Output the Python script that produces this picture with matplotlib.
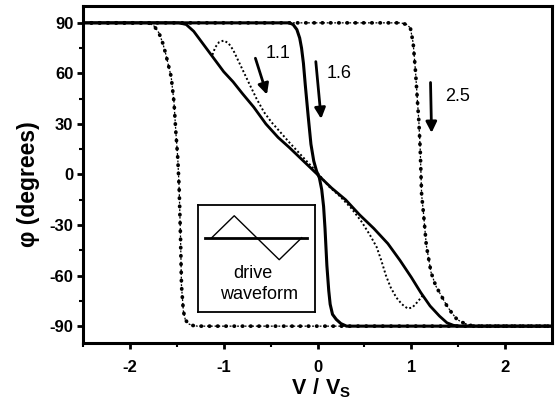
import matplotlib
matplotlib.use("Agg")
import matplotlib.pyplot as plt

plt.rcParams['font.family'] = ['Liberation Sans', 'DejaVu Sans']
plt.rcParams['axes.unicode_minus'] = False
plt.rcParams['mathtext.fontset'] = 'custom'
plt.rcParams['mathtext.rm'] = 'Liberation Sans'
plt.rcParams['mathtext.bf'] = 'Liberation Sans:bold'

# steep solid curve (1.6)
steep_v = [-2.5, -0.30, -0.26, -0.22, -0.19, -0.17, -0.15, -0.13, -0.10, -0.07, -0.04, -0.01,
           0.02, 0.045, 0.065, 0.08, 0.10, 0.12, 0.135, 0.16, 0.20, 0.25, 0.31, 2.5]
steep_phi = [90, 90, 89, 86, 81, 75, 66, 53, 35, 18, 8, 2,
             -2, -9, -19, -32, -54, -69, -77, -83, -86, -88.5, -90, -90]

# gradual solid curve (1.1)
mid_v = [-2.5, -1.48, -1.40, -1.32, -1.24, -1.16, -1.08, -1.00, -0.90, -0.80, -0.68, -0.55,
         -0.42, -0.30, -0.15, 0.0, 0.15, 0.30, 0.45, 0.60, 0.75, 0.88, 1.00, 1.10, 1.20,
         1.30, 1.38, 1.45, 1.52, 2.5]
mid_phi = [90, 90, 89, 85, 79, 73, 67, 61, 55, 48, 40, 30,
           22, 16, 8, 0, -8, -15, -24, -32, -41, -51, -61, -70, -78,
           -84, -88, -89.5, -90, -90]

# dotted curve (1.1)
dot_v = [-1.12, -1.09, -1.05, -1.00, -0.95, -0.90, -0.84, -0.78, -0.72, -0.65, -0.57, -0.49,
         -0.41, -0.30, -0.15, 0.0, 0.12, 0.24, 0.36, 0.47, 0.56, 0.63, 0.68, 0.73, 0.78,
         0.84, 0.90, 0.96, 1.01, 1.06, 1.12]
dot_phi = [71, 75.5, 78.5, 79.5, 78, 74, 67, 60, 53, 45, 37, 31,
           26, 19, 10, 1, -7, -13, -20, -28, -36, -43, -51, -60, -67,
           -73, -77, -79.5, -79, -76, -72]

# dash-dot loop (2.5), two branches
wide_left_v = [-2.5, -1.80, -1.74, -1.69, -1.65, -1.62, -1.59, -1.56, -1.53, -1.51, -1.49,
               -1.475, -1.46, -1.45, -1.43, -1.41, -1.38, -1.34, -1.28, 2.5]
wide_left_phi = [90, 90, 88, 84, 78, 72, 65, 58, 43, 25, 10,
                 -8, -38, -66, -81, -86, -88.5, -89.5, -90, -90]
wide_right_v = [-2.5, 0.89, 0.95, 0.99, 1.02, 1.045, 1.065, 1.08, 1.095, 1.11, 1.13, 1.16,
                1.21, 1.26, 1.32, 1.38, 1.43, 1.48, 1.53, 1.60, 1.66, 2.5]
wide_right_phi = [90, 90, 89, 87, 78, 61, 44, 32, 15, -12, -23, -42,
                  -58, -66, -72, -78, -82, -85.5, -87.5, -89, -90, -90]

# curve labels with arrow start / tip
labels = ['1.1', '1.6', '2.5']
label_pos = [(-0.553, 72), (0.10, 60), (1.36, 46.4)]
arrow_start = [(-0.662, 69), (-0.018, 67), (1.205, 54.6)]
arrow_tip = [(-0.539, 47.4), (0.039, 33), (1.216, 24.7)]

# drive waveform sketch
wave_t = [0, 1, 3, 4]
wave_y = [0, 1, -1, 0]

fig = plt.figure(figsize=(5.56, 4.15), dpi=100)
ax = fig.add_axes([83 / 556, 72 / 415, 469 / 556, 337 / 415])

# dash-dot loop: thin dotted trace with round dots on top
for v, p in [(wide_left_v, wide_left_phi), (wide_right_v, wide_right_phi)]:
    ax.plot(v, p, color='k', lw=0.9, ls=(0, (1.5, 1.5)), zorder=3)
    ax.plot(v, p, color='k', lw=2.7, ls=(0, (0.1, 2.1)),
            dash_capstyle='round', zorder=3)

ax.plot(mid_v, mid_phi, color='k', lw=2.0, zorder=2)
ax.plot(steep_v, steep_phi, color='k', lw=2.2, zorder=2)
ax.plot(dot_v, dot_phi, color='k', lw=1.4, ls=(0, (1, 1.2)), zorder=2)

for lab, pos, a0, a1 in zip(labels, label_pos, arrow_start, arrow_tip):
    ax.text(pos[0], pos[1], lab, fontsize=13, ha='left', va='center')
    ax.annotate('', xy=a1, xytext=a0,
                arrowprops=dict(arrowstyle='-|>', lw=2, color='k',
                                mutation_scale=16, shrinkA=0, shrinkB=0))

ax.set_xlim(-2.5, 2.5)
ax.set_ylim(-100, 100)
ax.set_xticks([-2, -1, 0, 1, 2])
ax.set_xticks([-2.5, -1.5, -0.5, 0.5, 1.5], minor=True)
ax.set_yticks([-90, -60, -30, 0, 30, 60, 90])
ax.set_yticks([-75, -45, -15, 15, 45, 75], minor=True)
for s in ax.spines.values():
    s.set_linewidth(2.2)
ax.tick_params(which='major', direction='out', length=4, width=2,
               labelsize=12, top=False, right=False)
ax.tick_params(which='minor', direction='out', length=3, width=1.5,
               top=False, right=False)
ax.tick_params(axis='x', pad=8)
ax.tick_params(axis='y', pad=3)
for t in ax.get_xticklabels() + ax.get_yticklabels():
    t.set_fontweight('bold')

ax.set_ylabel('φ (degrees)', fontsize=16.5, fontweight='bold', va='center')
ax.yaxis.set_label_coords(-0.117, 0.472)
ax.set_xlabel(r'$\mathbf{V\ /\ V_S}$', fontsize=15.5, va='center')
ax.xaxis.set_label_coords(0.507, -0.134)

# inset box with the drive waveform
ins = fig.add_axes([198 / 556, (415 - 312) / 415, 117 / 556, 107 / 415])
ins.set_xlim(-0.61, 4.59)
ins.set_ylim(-3.38, 1.49)
ins.plot([-0.3, 4.22], [0, 0], color='k', lw=2.0)
ins.plot(wave_t, wave_y, color='k', lw=1.0)
ins.set_xticks([])
ins.set_yticks([])
for s in ins.spines.values():
    s.set_linewidth(1.3)
ins.text(0.47, 0.36, 'drive', transform=ins.transAxes, fontsize=13,
         ha='center', va='center')
ins.text(0.525, 0.16, 'waveform', transform=ins.transAxes, fontsize=13,
         ha='center', va='center')

fig.savefig('out.png', dpi=100)
